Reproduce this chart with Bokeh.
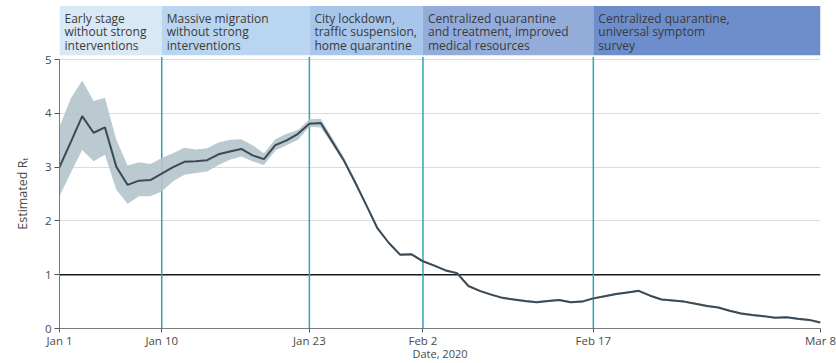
import pandas as pd
from bokeh.plotting import figure
from bokeh.models import Range1d, FixedTicker
from bokeh.core.properties import value
from bokeh.embed import file_html
from bokeh.resources import INLINE

FONT = "Open Sans"

# Daily estimated reproduction number, Jan 1 - Mar 8 2020
dates = pd.date_range("2020-01-01", "2020-03-08", freq="D")
rt = [3.00, 3.47, 3.95, 3.64, 3.74, 3.01, 2.67, 2.75, 2.76, 2.88,
      3.00, 3.10, 3.11, 3.13, 3.24, 3.29, 3.34, 3.22, 3.15, 3.41,
      3.50, 3.62, 3.81, 3.82, 3.48, 3.14, 2.73, 2.30, 1.86, 1.59,
      1.37, 1.38, 1.25, 1.17, 1.08, 1.03, 0.79, 0.70, 0.63, 0.57,
      0.54, 0.51, 0.49, 0.51, 0.53, 0.49, 0.50, 0.56, 0.60, 0.64,
      0.67, 0.70, 0.61, 0.54, 0.52, 0.50, 0.46, 0.42, 0.39, 0.33,
      0.28, 0.25, 0.23, 0.20, 0.21, 0.18, 0.16, 0.11]
rt_lower = [2.46, 2.90, 3.32, 3.11, 3.23, 2.58, 2.32, 2.46, 2.46, 2.55,
            2.74, 2.86, 2.89, 2.92, 3.04, 3.14, 3.20, 3.11, 3.04, 3.31,
            3.41, 3.51, 3.75, 3.74, 3.42, 3.09, 2.69, 2.27, 1.83, 1.57,
            1.35, 1.36, 1.23, 1.15, 1.06, 1.01, 0.77, 0.68, 0.61, 0.55,
            0.52, 0.49, 0.47, 0.49, 0.51, 0.47, 0.48, 0.54, 0.58, 0.62,
            0.65, 0.68, 0.59, 0.52, 0.50, 0.48, 0.44, 0.40, 0.37, 0.31,
            0.26, 0.23, 0.21, 0.18, 0.19, 0.16, 0.14, 0.09]
rt_upper = [3.75, 4.28, 4.61, 4.23, 4.29, 3.51, 3.03, 3.09, 3.06, 3.17,
            3.26, 3.36, 3.33, 3.35, 3.46, 3.51, 3.52, 3.41, 3.26, 3.52,
            3.62, 3.69, 3.89, 3.90, 3.55, 3.20, 2.78, 2.34, 1.89, 1.62,
            1.40, 1.40, 1.27, 1.19, 1.10, 1.05, 0.81, 0.72, 0.65, 0.59,
            0.56, 0.53, 0.51, 0.53, 0.55, 0.51, 0.52, 0.58, 0.62, 0.66,
            0.69, 0.72, 0.63, 0.56, 0.54, 0.52, 0.48, 0.44, 0.41, 0.35,
            0.30, 0.27, 0.25, 0.22, 0.23, 0.20, 0.18, 0.13]

# Intervention periods shown as header bands
period_starts = ["2020-01-01", "2020-01-10", "2020-01-23", "2020-02-02", "2020-02-17"]
period_ends = ["2020-01-10", "2020-01-23", "2020-02-02", "2020-02-17", "2020-03-08"]
period_labels = [
    "Early stage\nwithout strong\ninterventions",
    "Massive migration\nwithout strong\ninterventions",
    "City lockdown,\ntraffic suspension,\nhome quarantine",
    "Centralized quarantine\nand treatment, improved\nmedical resources",
    "Centralized quarantine,\nuniversal symptom\nsurvey",
]
period_colors = ["#d8e8f5", "#bad5ef", "#a8c5ea", "#93acda", "#6e8ecb"]

tick_dates = ["2020-01-01", "2020-01-10", "2020-01-23", "2020-02-02", "2020-02-17", "2020-03-08"]
tick_labels = ["Jan 1", "Jan 10", "Jan 23", "Feb 2", "Feb 17", "Mar 8"]
divider_dates = ["2020-01-10", "2020-01-23", "2020-02-02", "2020-02-17"]
y_ticks = [0, 1, 2, 3, 4, 5]
grid_ticks = [2, 3, 4, 5]

BAND_BOTTOM, BAND_TOP = 5.08, 6.0

x_start = pd.Timestamp(tick_dates[0])
x_end = pd.Timestamp(tick_dates[-1])

p = figure(width=836, height=363, x_axis_type="datetime",
           x_range=Range1d(x_start, x_end), y_range=Range1d(0, 6.1),
           output_backend="svg", toolbar_location=None,
           min_border_left=59, min_border_right=16,
           min_border_top=0, min_border_bottom=20)
p.outline_line_color = None
p.background_fill_color = "white"
p.xgrid.visible = False
p.ygrid.ticker = FixedTicker(ticks=grid_ticks)
p.ygrid.grid_line_color = "#dcdcdc"
p.ygrid.grid_line_width = 1

# header bands with period descriptions
p.quad(left=pd.to_datetime(period_starts), right=pd.to_datetime(period_ends),
       bottom=BAND_BOTTOM, top=BAND_TOP, fill_color=period_colors, line_color=None)
p.text(x=pd.to_datetime(period_starts), y=[BAND_TOP] * len(period_starts),
       text=period_labels, x_offset=5, y_offset=4,
       text_align="left", text_baseline="top",
       text_font=value(FONT), text_font_size="12px", text_color="#3a3a3a",
       text_line_height=0.8)

# reference line at Rt = 1
p.segment(x0=[x_start], y0=[1], x1=[x_end], y1=[1], line_color="#1a1a1a", line_width=1.3)

# period dividers
div = pd.to_datetime(divider_dates)
p.segment(x0=div, y0=0, x1=div, y1=5.05, line_color="#33a2b6", line_width=1.5)

# credible interval and estimate
p.varea(x=dates, y1=rt_lower, y2=rt_upper, fill_color="#b4c3cc", fill_alpha=0.9)
p.line(x=dates, y=rt, line_color="#3b4a55", line_width=2)

# axes
tick_ms = [float(pd.Timestamp(d).value // 10**6) for d in tick_dates]
xa = p.xaxis[0]
xa.ticker = FixedTicker(ticks=tick_ms)
xa.major_label_overrides = {t: lab for t, lab in zip(tick_ms, tick_labels)}
xa.axis_line_color = "#7a7a7a"
xa.major_tick_line_color = "#555555"
xa.major_tick_out = 4
xa.major_tick_in = 0
xa.minor_tick_line_color = None
xa.major_label_text_font = FONT
xa.major_label_text_font_size = "11.5px"
xa.major_label_text_color = "#4a4a4a"
xa.major_label_standoff = 0
xa.axis_label = "Date, 2020"
xa.axis_label_text_font = FONT
xa.axis_label_text_font_size = "11px"
xa.axis_label_text_font_style = "normal"
xa.axis_label_text_color = "#4a4a4a"
xa.axis_label_standoff = -5

ya = p.yaxis[0]
ya.ticker = FixedTicker(ticks=y_ticks)
ya.bounds = (0, 5)
ya.axis_line_color = "#7a7a7a"
ya.major_tick_line_color = "#555555"
ya.major_tick_out = 5
ya.major_tick_in = 0
ya.minor_tick_line_color = None
ya.major_label_text_font = FONT
ya.major_label_text_font_size = "11.5px"
ya.major_label_text_color = "#4a4a4a"
ya.major_label_standoff = 3
# trailing no-break spaces keep the label centred on the 0-5 span
ya.axis_label = "Estimated R\u209c" + "\u00a0" * 18
ya.axis_label_text_font = FONT
ya.axis_label_text_font_size = "12.5px"
ya.axis_label_text_font_style = "normal"
ya.axis_label_text_color = "#4a4a4a"
ya.axis_label_standoff = 11

open("out.html", "w").write(file_html(p, INLINE))
